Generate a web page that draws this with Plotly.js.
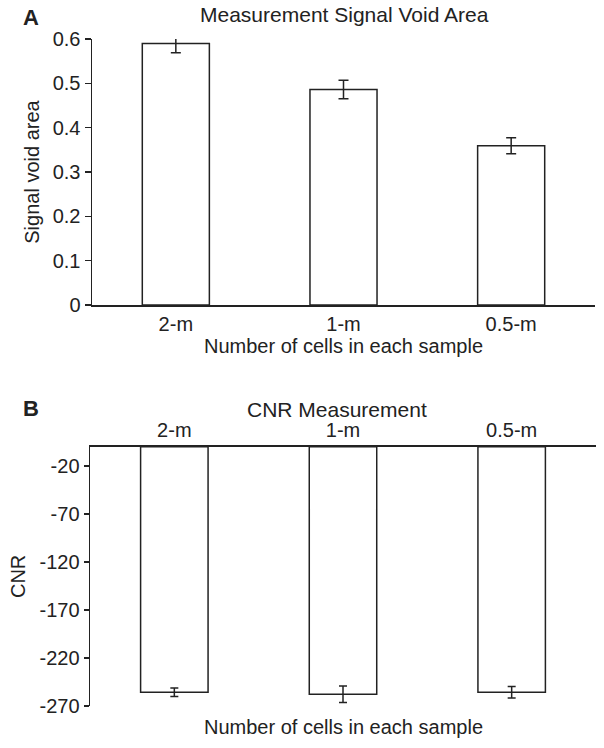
<!DOCTYPE html>
<html>
<head>
<meta charset="utf-8">
<script src="https://cdn.plot.ly/plotly-3.0.1.min.js"></script>
<style>html,body{margin:0;padding:0;background:#fff;}#chart{width:604px;height:748px;}</style>
</head>
<body>
<div id="chart"></div>
<script>
// ---- data ----
const categories = ['2-m', '1-m', '0.5-m'];
const voidArea = [0.59, 0.486, 0.359];
const voidAreaErr = [0.021, 0.021, 0.018];
const cnr = [-255.7, -257.8, -255.7];
const cnrErr = [4.5, 8.5, 6.0];
const voidTicks = [0, 0.1, 0.2, 0.3, 0.4, 0.5, 0.6];
const voidTickText = ['0', '0.1', '0.2', '0.3', '0.4', '0.5', '0.6'];
const cnrTicks = [-20, -70, -120, -170, -220, -270];
const cnrTickText = ['-20', '-70', '-120', '-170', '-220', '-270'];

const FONT = 'Liberation Sans, Arial, Helvetica, sans-serif';
const INK = '#222';
const FS = 20;
const W = 604, H = 748;
const px = v => v / W;
const py = v => 1 - v / H;

const traces = [
  {
    type: 'bar', x: categories, y: voidArea, xaxis: 'x', yaxis: 'y',
    marker: {color: '#fff', line: {color: INK, width: 1.5}},
    error_y: {type: 'data', array: voidAreaErr, visible: true, color: INK, thickness: 1.5, width: 5},
    cliponaxis: false, hoverinfo: 'none'
  },
  {
    type: 'bar', x: categories, y: cnr, xaxis: 'x2', yaxis: 'y2',
    marker: {color: '#fff', line: {color: INK, width: 1.5}},
    error_y: {type: 'data', array: cnrErr, visible: true, color: INK, thickness: 1.5, width: 4},
    cliponaxis: false, hoverinfo: 'none'
  }
];

const layout = {
  width: W, height: H,
  margin: {l: 0, r: 0, t: 0, b: 0},
  paper_bgcolor: '#fff', plot_bgcolor: '#fff',
  showlegend: false,
  bargap: 0.6,
  font: {family: FONT, color: INK, size: FS},
  xaxis: {
    domain: [px(92), px(595)], anchor: 'y',
    range: [-0.5, 2.5], type: 'category',
    showline: true, linecolor: INK, linewidth: 1.5,
    ticks: '', showgrid: false, zeroline: false,
    tickfont: {size: FS, family: FONT, color: INK},
    title: {text: 'Number of cells in each sample', font: {size: FS, family: FONT, color: INK}, standoff: 5}
  },
  yaxis: {
    domain: [py(305), py(39)], anchor: 'x',
    range: [0, 0.6],
    tickvals: voidTicks, ticktext: voidTickText,
    showline: true, linecolor: INK, linewidth: 1.5,
    ticks: 'outside', ticklen: 6, tickwidth: 1.5, tickcolor: INK,
    showgrid: false, zeroline: false,
    tickfont: {size: FS, family: FONT, color: INK},
    title: {text: 'Signal void area', font: {size: FS, family: FONT, color: INK}, standoff: 7}
  },
  xaxis2: {
    domain: [px(90), px(596)], anchor: 'y2', side: 'top',
    range: [-0.5, 2.5], type: 'category',
    showline: true, linecolor: INK, linewidth: 1.5,
    ticks: '', showgrid: false, zeroline: false,
    tickfont: {size: FS, family: FONT, color: INK}
  },
  yaxis2: {
    domain: [py(706), py(446.7)], anchor: 'x2',
    range: [-270, 0],
    tickvals: cnrTicks, ticktext: cnrTickText,
    showline: true, linecolor: INK, linewidth: 1.5,
    ticks: 'outside', ticklen: 5, tickwidth: 1.5, tickcolor: INK,
    showgrid: false, zeroline: false,
    tickfont: {size: FS, family: FONT, color: INK},
    title: {text: 'CNR', font: {size: FS, family: FONT, color: INK}, standoff: 8}
  },
  annotations: [
    {text: '<b>A</b>', xref: 'paper', yref: 'paper', x: px(31), y: py(17.5), xanchor: 'center', yanchor: 'middle', showarrow: false, font: {size: 22, family: FONT, color: INK}},
    {text: '<b>B</b>', xref: 'paper', yref: 'paper', x: px(31), y: py(408.5), xanchor: 'center', yanchor: 'middle', showarrow: false, font: {size: 22, family: FONT, color: INK}},
    {text: 'Measurement Signal Void Area', xref: 'paper', yref: 'paper', x: px(344), y: py(15), xanchor: 'center', yanchor: 'middle', showarrow: false, font: {size: 21, family: FONT, color: INK}},
    {text: 'CNR Measurement', xref: 'paper', yref: 'paper', x: px(337), y: py(409.5), xanchor: 'center', yanchor: 'middle', showarrow: false, font: {size: 21, family: FONT, color: INK}},
    {text: 'Number of cells in each sample', xref: 'paper', yref: 'paper', x: px(343), y: py(727), xanchor: 'center', yanchor: 'middle', showarrow: false, font: {size: FS, family: FONT, color: INK}}
  ]
};

Plotly.newPlot('chart', traces, layout, {displayModeBar: false, staticPlot: true});
</script>
</body>
</html>
